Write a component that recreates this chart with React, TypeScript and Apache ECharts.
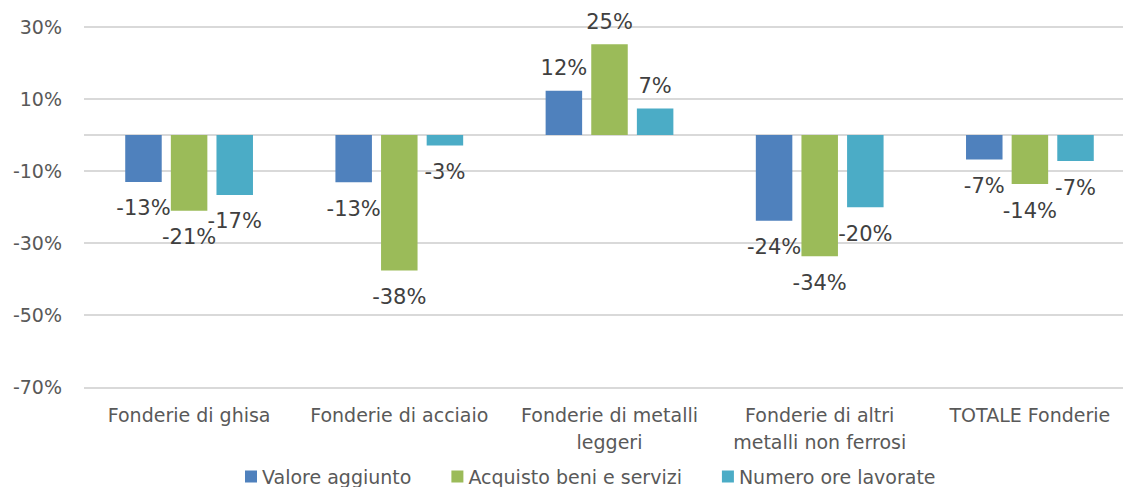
import React, { useEffect, useRef } from "react";
import * as echarts from "echarts";

const categories = [
  "Fonderie di ghisa",
  "Fonderie di acciaio",
  "Fonderie di metalli\nleggeri",
  "Fonderie di altri\nmetalli non ferrosi",
  "TOTALE Fonderie",
];
const seriesNames = ["Valore aggiunto", "Acquisto beni e servizi", "Numero ore lavorate"];
const valoreAggiunto = [-13.0, -13.1, 12.3, -23.8, -6.8];
const acquistoBeni = [-21.0, -37.6, 25.2, -33.6, -13.6];
const numeroOre = [-16.6, -2.9, 7.4, -20.0, -7.2];
const colors = ["#4f81bd", "#9bbb59", "#4bacc6"];
const yTicks = { min: -70, max: 30, interval: 20 };

const FONT = "DejaVu Sans";

export default function App() {
  const ref = useRef<HTMLDivElement>(null);
  useEffect(() => {
    if (!ref.current) return;
    const chart = echarts.init(ref.current, undefined, { renderer: "svg" });
    const allValues = [valoreAggiunto, acquistoBeni, numeroOre];
    const series = allValues.map((vals, i) => ({
      name: seriesNames[i],
      type: "bar",
      barWidth: 36.5,
      barGap: "25%",
      itemStyle: { color: colors[i] },
      data: vals.map((v) => ({
        value: v,
        label: {
          show: true,
          position: v < 0 ? "bottom" : "top",
          distance: v < 0 ? 16 : 12,
          formatter: () => `${Math.round(v)}%`,
          fontFamily: FONT,
          fontSize: 21,
          color: "#404040",
        },
      })),
      markLine:
        i === 0
          ? {
              silent: true,
              symbol: "none",
              label: { show: false },
              lineStyle: { color: "#d9d9d9", width: 2, type: "solid" },
              data: [{ yAxis: 0 }],
              z: 1,
            }
          : undefined,
    }));
    chart.setOption({
      animation: false,
      backgroundColor: "#ffffff",
      textStyle: { fontFamily: FONT },
      grid: { left: 84, right: 5, top: 27, bottom: 487 - 387.3 },
      legend: {
        data: seriesNames,
        left: 240,
        top: 462,
        icon: "rect",
        itemWidth: 12,
        itemHeight: 12,
        itemGap: 40,
        textStyle: { fontFamily: FONT, fontSize: 19, color: "#595959" },
      },
      xAxis: {
        type: "category",
        data: categories,
        axisLine: { show: false, onZero: false },
        axisTick: { show: false },
        axisLabel: {
          interval: 0,
          margin: 14,
          fontFamily: FONT,
          fontSize: 19,
          lineHeight: 27,
          color: "#595959",
        },
      },
      yAxis: {
        type: "value",
        min: yTicks.min,
        max: yTicks.max,
        interval: yTicks.interval,
        axisLine: { show: false },
        axisTick: { show: false },
        axisLabel: {
          margin: 22,
          formatter: "{value}%",
          fontFamily: FONT,
          fontSize: 19,
          color: "#595959",
        },
        splitLine: { lineStyle: { color: "#d9d9d9", width: 2 } },
      },
      series,
    });
    return () => chart.dispose();
  }, []);
  return (
    <div
      style={{
        position: "fixed",
        left: 0,
        top: 0,
        width: 1123,
        height: 487,
        overflow: "hidden",
        background: "#fff",
      }}
    >
      <div ref={ref} style={{ width: 1140, height: 487 }} />
    </div>
  );
}
